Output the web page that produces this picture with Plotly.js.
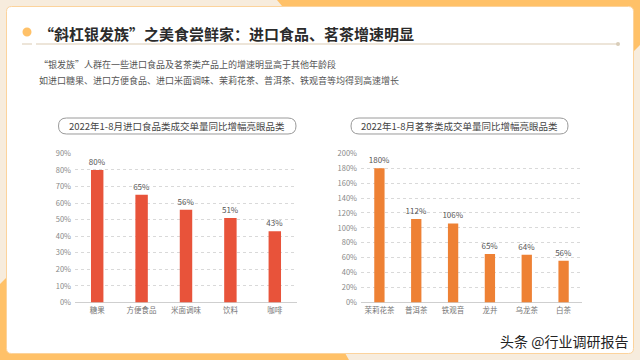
<!DOCTYPE html>
<html>
<head>
<meta charset="utf-8">
<script src="https://cdn.plot.ly/plotly-3.0.1.min.js"></script>
<style>html,body{margin:0;padding:0;background:#f7ecdd;}#chart{width:640px;height:360px;}</style>
</head>
<body>
<div id="chart"></div>
<script>
// ---- data ----
const foodCategories = ['糖果', '方便食品', '米面调味', '饮料', '咖啡'];
const foodValues = [80, 65, 56, 51, 43];
const teaCategories = ['茉莉花茶', '普洱茶', '铁观音', '龙井', '乌龙茶', '白茶'];
const teaValues = [180, 112, 106, 65, 64, 56];
const foodTicks = [0, 10, 20, 30, 40, 50, 60, 70, 80, 90];
const teaTicks = [0, 20, 40, 60, 80, 100, 120, 140, 160, 180, 200];
const mainTitle = '“斜杠银发族”之美食尝鲜家：进口食品、茗茶增速明显';
const subLine1 = '“银发族”人群在一些进口食品及茗茶类产品上的增速明显高于其他年龄段';
const subLine2 = '如进口糖果、进口方便食品、进口米面调味、茉莉花茶、普洱茶、铁观音等均得到高速增长';
const foodTitle = '2022年1-8月进口食品类成交单量同比增幅亮眼品类';
const teaTitle = '2022年1-8月茗茶类成交单量同比增幅亮眼品类';
const watermark = '头条 @行业调研报告';

// ---- helpers (pixel -> paper) ----
const W = 640, H = 360;
const fx = x => (x / W).toFixed(5);
const fy = y => (1 - y / H).toFixed(5);
function poly(pts) {
  return 'M' + pts.map(p => fx(p[0]) + ',' + fy(p[1])).join(' L') + ' Z';
}
function rrect(x0, y0, x1, y1, r) {
  return 'M' + fx(x0 + r) + ',' + fy(y0) +
    ' L' + fx(x1 - r) + ',' + fy(y0) +
    ' Q' + fx(x1) + ',' + fy(y0) + ' ' + fx(x1) + ',' + fy(y0 + r) +
    ' L' + fx(x1) + ',' + fy(y1 - r) +
    ' Q' + fx(x1) + ',' + fy(y1) + ' ' + fx(x1 - r) + ',' + fy(y1) +
    ' L' + fx(x0 + r) + ',' + fy(y1) +
    ' Q' + fx(x0) + ',' + fy(y1) + ' ' + fx(x0) + ',' + fy(y1 - r) +
    ' L' + fx(x0) + ',' + fy(y0 + r) +
    ' Q' + fx(x0) + ',' + fy(y0) + ' ' + fx(x0 + r) + ',' + fy(y0) + ' Z';
}
const FONT = '"Noto Sans CJK SC", "Noto Sans", sans-serif';
const ORANGE = '#ffc168';

const traces = [
  {
    type: 'bar', x: foodCategories, y: foodValues, xaxis: 'x', yaxis: 'y',
    marker: {color: '#e8533a'},
    text: foodValues.map(v => v + '%'), textposition: 'outside', cliponaxis: false,
    constraintext: 'none',
    textfont: {size: 8, color: '#555', family: FONT},
    hoverinfo: 'skip'
  },
  {
    type: 'bar', x: teaCategories, y: teaValues, xaxis: 'x2', yaxis: 'y2',
    marker: {color: '#ee8134'},
    text: teaValues.map(v => v + '%'), textposition: 'outside', cliponaxis: false,
    constraintext: 'none',
    textfont: {size: 8, color: '#555', family: FONT},
    hoverinfo: 'skip'
  }
];

const yCommon = {
  tickmode: 'array',
  tickfont: {size: 7.5, color: '#888', family: FONT},
  showgrid: true, gridcolor: '#d9d9d9', griddash: 'dot', gridwidth: 1,
  zeroline: true, zerolinecolor: '#cfcfcf', zerolinewidth: 1,
  showline: false, ticks: '', fixedrange: true, ticklabelstandoff: 3,
  domain: [1 - 302.5 / H, 1 - 153.3 / H]
};
const xCommon = {
  tickfont: {size: 7.5, color: '#777', family: FONT},
  showgrid: false, showline: false, zeroline: false, ticks: '', fixedrange: true,
  ticklabelstandoff: 2
};

const layout = {
  width: W, height: H,
  margin: {l: 0, r: 0, t: 0, b: 0},
  paper_bgcolor: '#f7ecdd', plot_bgcolor: 'rgba(0,0,0,0)',
  showlegend: false, bargap: 0.72,
  font: {family: FONT},
  xaxis: Object.assign({}, xCommon, {domain: [75 / W, 297 / W], anchor: 'y'}),
  yaxis: Object.assign({}, yCommon, {range: [0, 90], tickvals: foodTicks,
    ticktext: foodTicks.map(v => v + '%'), anchor: 'x'}),
  xaxis2: Object.assign({}, xCommon, {domain: [361 / W, 582 / W], anchor: 'y2'}),
  yaxis2: Object.assign({}, yCommon, {range: [0, 200], tickvals: teaTicks,
    ticktext: teaTicks.map(v => v + '%'), anchor: 'x2'}),
  shapes: [
    {type: 'path', xref: 'paper', yref: 'paper', layer: 'below', line: {width: 0}, fillcolor: ORANGE,
      path: poly([[277, 0], [640, 0], [640, 45], [630, 55], [630, 6], [282, 6]])},
    {type: 'path', xref: 'paper', yref: 'paper', layer: 'below', line: {width: 0}, fillcolor: ORANGE,
      path: poly([[0, 284], [8, 276], [8, 353], [345, 353], [349, 360], [0, 360]])},
    {type: 'path', xref: 'paper', yref: 'paper', layer: 'below', line: {width: 1, color: '#fcd39c'}, fillcolor: '#ffffff',
      path: rrect(6.5, 6.5, 633.5, 353.5, 5)},
    {type: 'circle', xref: 'paper', yref: 'paper', layer: 'below', line: {width: 0}, fillcolor: ORANGE,
      x0: fx(22.5), x1: fx(31.5), y0: fy(36.5), y1: fy(27.5)},
    {type: 'line', xref: 'paper', yref: 'paper', layer: 'below', line: {width: 2, color: '#ede5d9'},
      x0: fx(22), x1: fx(32), y0: fy(44), y1: fy(44)},
    {type: 'line', xref: 'paper', yref: 'paper', layer: 'below', line: {width: 2, color: '#ede5d9'},
      x0: fx(36), x1: fx(617), y0: fy(44), y1: fy(44)},
    {type: 'circle', xref: 'paper', yref: 'paper', layer: 'below', line: {width: 0}, fillcolor: '#d9cdb9',
      x0: fx(616), x1: fx(620), y0: fy(46), y1: fy(42)},
    {type: 'path', xref: 'paper', yref: 'paper', layer: 'below', line: {width: 1, color: '#9a9a9a'}, fillcolor: 'rgba(0,0,0,0)',
      path: rrect(58.5, 118, 296, 134, 8)},
    {type: 'path', xref: 'paper', yref: 'paper', layer: 'below', line: {width: 1, color: '#9a9a9a'}, fillcolor: 'rgba(0,0,0,0)',
      path: rrect(351, 118, 568, 134, 8)}
  ],
  annotations: [
    {xref: 'paper', yref: 'paper', x: fx(37), y: fy(33), xanchor: 'left', yanchor: 'middle', showarrow: false,
      text: '<b>' + mainTitle + '</b>', font: {size: 15, color: '#2b2b2b', family: FONT}},
    {xref: 'paper', yref: 'paper', x: fx(37), y: fy(64), xanchor: 'left', yanchor: 'middle', showarrow: false,
      text: subLine1, font: {size: 9, color: '#555', family: FONT}},
    {xref: 'paper', yref: 'paper', x: fx(37), y: fy(81), xanchor: 'left', yanchor: 'middle', showarrow: false,
      text: subLine2, font: {size: 9, color: '#555', family: FONT}},
    {xref: 'paper', yref: 'paper', x: fx(177), y: fy(126), xanchor: 'center', yanchor: 'middle', showarrow: false,
      text: foodTitle, font: {size: 9.5, color: '#444', family: FONT}},
    {xref: 'paper', yref: 'paper', x: fx(459.5), y: fy(126), xanchor: 'center', yanchor: 'middle', showarrow: false,
      text: teaTitle, font: {size: 9.5, color: '#444', family: FONT}},
    {xref: 'paper', yref: 'paper', x: fx(630), y: fy(341), xanchor: 'right', yanchor: 'middle', showarrow: false,
      text: watermark, font: {size: 14, color: '#222', family: FONT}}
  ]
};

Plotly.newPlot('chart', traces, layout, {staticPlot: true, displayModeBar: false});
</script>
</body>
</html>
